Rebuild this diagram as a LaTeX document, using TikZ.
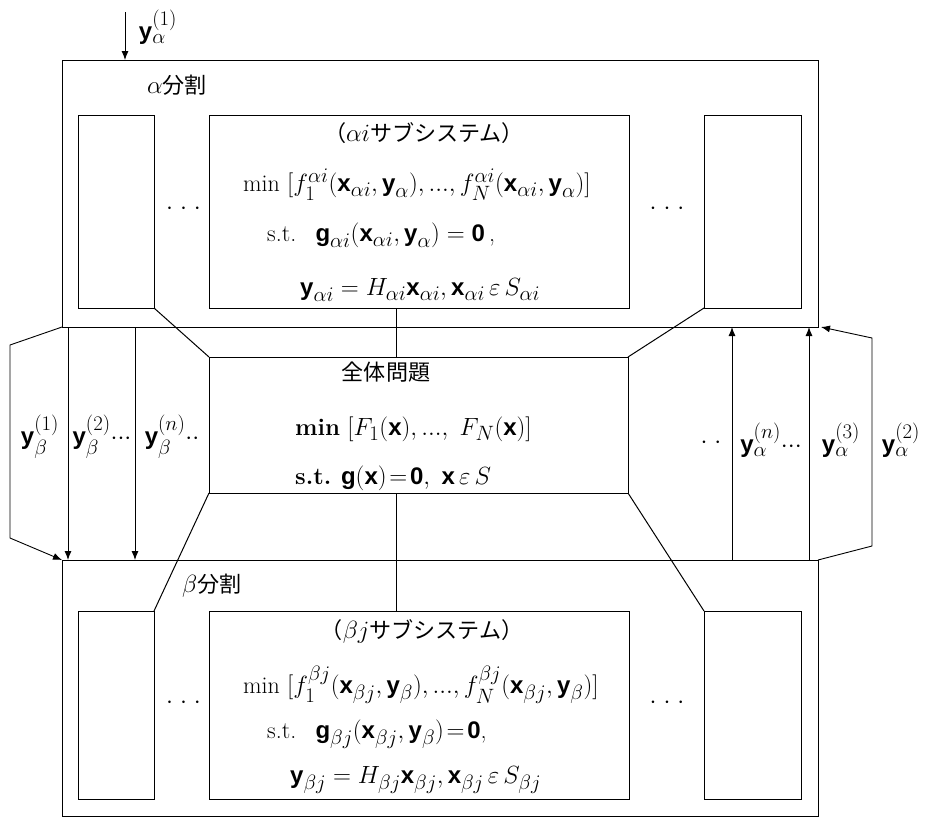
\documentclass[tikz,border=0pt]{standalone}
\usepackage{amsmath}
\usepackage{fontspec}
\newfontfamily\jpfont[Scale=0.92]{Noto Sans CJK JP}
\newfontfamily\vecfont{Liberation Sans}
\newcommand{\bv}[1]{\text{\vecfont\bfseries #1}}
\newcommand{\tdots}{{\cdot}{\cdot}{\cdot}}
\newcommand{\boxdots}{${\cdot}\;{\cdot}\;{\cdot}$}
\DeclareMathSizes{24}{24}{19.5}{15}
\usetikzlibrary{arrows.meta,positioning}

\begin{document}
\begin{tikzpicture}[
  x=1pt, y=-1pt,
  every node/.style={font=\fontsize{24}{28}\selectfont, inner sep=1pt},
  frame/.style={rectangle, draw=black, line width=1pt, inner sep=0pt, outer sep=0pt},
  txt/.style={anchor=west, inner sep=0pt},
  link/.style={draw=black, line width=1pt},
  arrow/.style={-{Latex[length=9pt,width=7pt]}, line width=0.9pt},
]
\fill[white] (0,0) rectangle (926,817);
\useasboundingbox (0,0) rectangle (926,817);

% alpha partition
\node[frame, minimum width=756pt, minimum height=267pt] (abox) at (440,193.5) {};
\node[frame, minimum width=76pt, minimum height=193pt] (aleft) at (116,211.5) {};
\node[frame, minimum width=420pt, minimum height=193pt] (asub) at (419,211.5) {};
\node[frame, minimum width=97pt, minimum height=193pt] (aright) at (752.5,211.5) {};
\node[txt] (alabel) at (147,85) {$\alpha${\jpfont 分割}};
\node (adotsl) at (183.5,209) {\boxdots};
\node (adotsr) at (667,209) {\boxdots};
\node (atitle) at (424,133) {{\jpfont （}$\alpha i${\jpfont サブシステム）}};
\node[txt] (amin) at (243,185) {$\min\ [f_1^{\alpha i}(\bv{x}_{\alpha i},\bv{y}_\alpha),{...},f_N^{\alpha i}(\bv{x}_{\alpha i},\bv{y}_\alpha)]$};
\node[txt] (ast) at (267,235) {s.t.\enspace\ $\bv{g}_{\alpha i}(\bv{x}_{\alpha i},\bv{y}_\alpha)=\bv{0}$\,,};
\node[txt] (ay) at (300,290) {$\bv{y}_{\alpha i}=H_{\alpha i}\bv{x}_{\alpha i},\bv{x}_{\alpha i}\,\varepsilon\,S_{\alpha i}$};

% whole problem
\node[frame, minimum width=419pt, minimum height=136pt] (whole) at (418.5,425) {};
\node (wtitle) at (386,372) {\jpfont 全体問題};
\node[txt] (wmin) at (295,429) {\textbf{min}\ $[F_1(\bv{x}),{...},\ F_N(\bv{x})]$};
\node[txt] (wst) at (295,478) {\textbf{s.t.} $\bv{g}(\bv{x})\!=\!\bv{0},\ \bv{x}\,\varepsilon\,S$};

% beta partition
\node[frame, minimum width=756pt, minimum height=256pt] (bbox) at (440,688) {};
\node[frame, minimum width=76pt, minimum height=188pt] (bleft) at (116,705) {};
\node[frame, minimum width=420pt, minimum height=188pt] (bsub) at (419,705) {};
\node[frame, minimum width=97pt, minimum height=188pt] (bright) at (752.5,705) {};
\node[txt] (blabel) at (182,586) {$\beta${\jpfont 分割}};
\node (bdotsl) at (183.5,703) {\boxdots};
\node (bdotsr) at (667,703) {\boxdots};
\node (btitle) at (422,631) {{\jpfont （}$\beta j${\jpfont サブシステム）}};
\node[txt] (bmin) at (243,685) {$\min\ [f_1^{\beta j}(\bv{x}_{\beta j},\bv{y}_\beta),{...},f_N^{\beta j}(\bv{x}_{\beta j},\bv{y}_\beta)]$};
\node[txt] (bst) at (267,734) {s.t.\enspace\ $\bv{g}_{\beta j}(\bv{x}_{\beta j},\bv{y}_\beta)\!=\!\bv{0}$,};
\node[txt] (by) at (290,780) {$\bv{y}_{\beta j}=H_{\beta j}\bv{x}_{\beta j},\bv{x}_{\beta j}\,\varepsilon\,S_{\beta j}$};

% links between subsystems and whole problem
\draw[link] ([xshift=-23pt]asub.south) -- ([xshift=-22.5pt]whole.north);
\draw[link] ([xshift=-22.5pt]whole.south) -- ([xshift=-23pt]bsub.north);
\draw[link] (aleft.south east) -- (whole.north west);
\draw[link] (aright.south west) -- (whole.north east);
\draw[link] (whole.south west) -- (bleft.north east);
\draw[link] (whole.south east) -- (bright.north west);

% input
\coordinate (ain) at (125,12);
\draw[arrow] (ain) -- (ain |- abox.north);
\node (yin) at (158,27) {$\bv{y}_\alpha^{(1)}$};

% alpha -> beta
\draw[arrow] (abox.south west) -- ++(-52,18) -- ++(0,193) -- (bbox.north west);
\draw[arrow] ([xshift=6pt]abox.south west) -- ([xshift=6pt]bbox.north west);
\draw[arrow] ([xshift=73pt]abox.south west) -- ([xshift=73pt]bbox.north west);
\node (yb1) at (40,437) {$\bv{y}_\beta^{(1)}$};
\node (yb2) at (102,437) {$\bv{y}_\beta^{(2)}\tdots$};
\node (ybn) at (172,437) {$\bv{y}_\beta^{(n)}{\cdot}{\cdot}$};

% beta -> alpha
\draw[arrow] ([xshift=-86pt]bbox.north east) -- ([xshift=-86pt]abox.south east);
\draw[arrow] ([xshift=-9pt]bbox.north east) -- ([xshift=-9pt]abox.south east);
\draw[arrow] (bbox.north east) -- ++(54,-14) -- ++(0,-208) -- ([xshift=3pt]abox.south east);
\node (ydots) at (711,443) {$\cdot\;\cdot$};
\node (yan) at (771,440) {$\bv{y}_\alpha^{(n)}\tdots$};
\node (ya3) at (841,440) {$\bv{y}_\alpha^{(3)}$};
\node (ya2) at (901,440) {$\bv{y}_\alpha^{(2)}$};

\end{tikzpicture}
\end{document}
